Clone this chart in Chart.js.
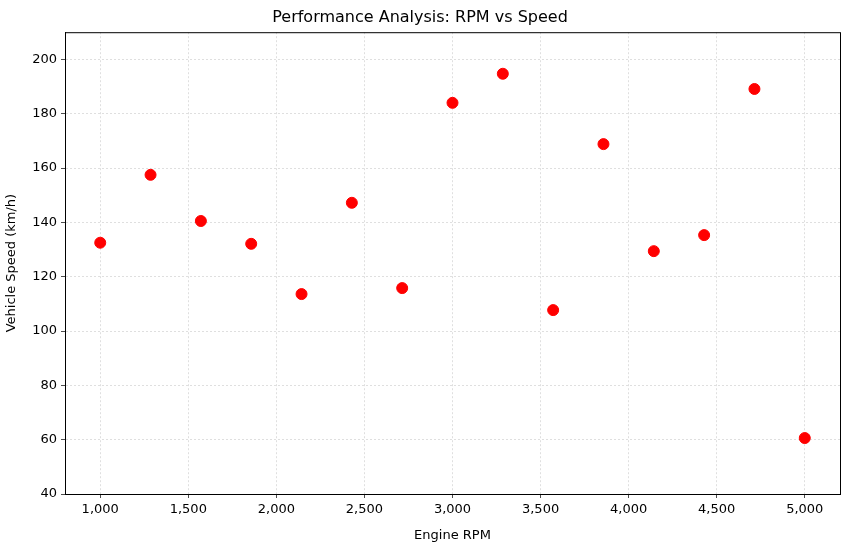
<!DOCTYPE html>
<html><head><meta charset="utf-8">
<script src="https://cdn.jsdelivr.net/npm/chart.js@4/dist/chart.umd.min.js"></script>
<style>html,body{margin:0;padding:0;background:#fff}#w{width:850px;height:547px}</style>
</head><body><div id="w"><canvas id="c"></canvas></div>
<script>
const rpm = [1000,1285.7,1571.4,1857.1,2142.9,2428.6,2714.3,3000,3285.7,3571.4,3857.1,4142.9,4428.6,4714.3,5000];
const speed = [132.5,157.5,140.5,132.1,113.6,147.2,115.8,184,194.7,107.7,168.8,129.4,135.3,189.1,60.6];
const xTicks = [1000,1500,2000,2500,3000,3500,4000,4500,5000];
const yTicks = [40,60,80,100,120,140,160,180,200];
const font = {family:'"DejaVu Sans", sans-serif', size:13};
Chart.defaults.color = '#000';
const box = {id:'box', afterDatasetsDraw(ch){const a=ch.chartArea,c=ch.ctx;c.save();c.strokeStyle='#000';c.lineWidth=1;c.strokeRect(a.left+0.5,a.top+0.5,a.right-a.left,a.bottom-a.top);c.restore();}};
new Chart(document.getElementById('c'), {
  type:'scatter',
  data:{datasets:[{data:rpm.map((x,i)=>({x, y:speed[i]})), backgroundColor:'#ff0000', borderColor:'#ff0000', pointRadius:5.5, pointHoverRadius:5.5}]},
  options:{
    responsive:true, maintainAspectRatio:false, animation:false,
    layout:{padding:{left:0,right:10,top:0,bottom:0}},
    plugins:{legend:{display:false}, tooltip:{enabled:false},
      title:{display:true, text:'Performance Analysis: RPM vs Speed', font:{family:font.family,size:16,weight:'normal'}, padding:{top:8,bottom:5}, color:'#000'}},
    scales:{
      x:{type:'linear', min:800, max:5200,
        afterBuildTicks(s){s.ticks=xTicks.map(v=>({value:v}));},
        afterFit(s){s.height=53;},
        ticks:{font, padding:4, autoSkip:false, maxRotation:0},
        grid:{color:'rgba(0,0,0,0.18)', lineWidth:0.7, tickLength:4, tickColor:'#000'},
        border:{color:'#000', dash:[2,2]},
        title:{display:true, text:'Engine RPM', font, padding:{top:2}}},
      y:{type:'linear', min:40, max:210,
        afterBuildTicks(s){s.ticks=yTicks.map(v=>({value:v}));},
        afterFit(s){s.width=65;},
        ticks:{font, padding:4},
        grid:{color:'rgba(0,0,0,0.18)', lineWidth:0.7, tickLength:4, tickColor:'#000'},
        border:{color:'#000', dash:[2,2]},
        title:{display:true, text:'Vehicle Speed (km/h)', font, padding:{bottom:2}}}
    }
  },
  plugins:[box]
});
</script></body></html>
